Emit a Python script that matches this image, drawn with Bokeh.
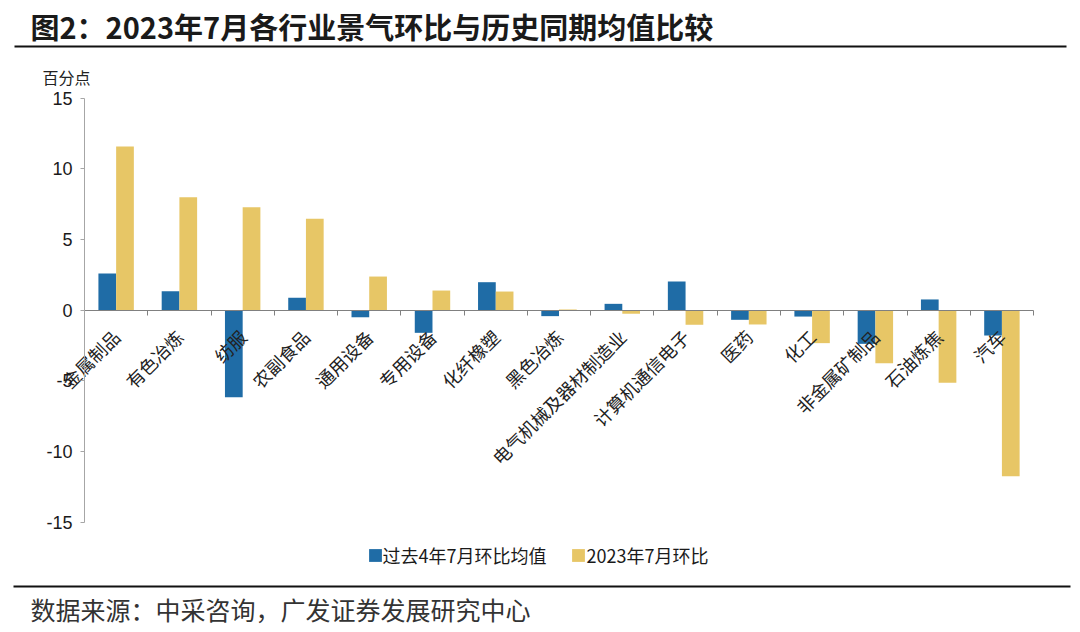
import math
from bokeh.plotting import figure
from bokeh.models import Range1d, FixedTicker, Legend, LegendItem, Label, ColumnDataSource
from bokeh.transform import dodge
from bokeh.core.properties import value
from bokeh.embed import file_html
from bokeh.resources import INLINE

# ---------------- data ----------------
categories = ["金属制品", "有色冶炼", "纺服", "农副食品", "通用设备", "专用设备", "化纤橡塑",
              "黑色冶炼", "电气机械及器材制造业", "计算机通信电子", "医药", "化工",
              "非金属矿制品", "石油炼焦", "汽车"]
avg_past4 = [2.6, 1.34, -6.15, 0.88, -0.5, -1.6, 1.98, -0.42, 0.45, 2.03, -0.68, -0.45, -2.38, 0.76, -1.79]
jul_2023 = [11.58, 7.99, 7.28, 6.46, 2.38, 1.39, 1.32, 0.05, -0.25, -1.03, -1.01, -2.33, -3.75, -5.13, -11.74]
y_ticks = [-15, -10, -5, 0, 5, 10, 15]
y_tick_labels = ["-15", "-10", "-5", "0", "5", "10", "15"]
series_names = ["过去4年7月环比均值", "2023年7月环比"]
title_text = "图2：2023年7月各行业景气环比与历史同期均值比较"
unit_text = "百分点"
source_text = "数据来源：中采咨询，广发证券发展研究中心"

BLUE = "#1F6CA6"
YELLOW = "#E7C666"
CJK = "Noto Sans CJK SC"

# ---------------- layout helpers (canvas pixels -> data) ----------------
W, H = 1080, 632
X0, PITCH = 84.0, 63.27      # x of axis start, px per category
Y0, PPU = 309.7, 14.14       # y of zero line, px per unit


def dx(px):
    return (px - X0) / PITCH - 0.5


def dy(py):
    return (Y0 - py) / PPU


p = figure(width=W, height=H,
           x_range=Range1d(dx(0), dx(W)),
           y_range=Range1d(dy(H), dy(0)),
           output_backend="svg", toolbar_location=None, min_border=0)
p.outline_line_color = None
p.xgrid.visible = False
p.ygrid.visible = False
p.background_fill_color = "white"
p.border_fill_color = "white"

idx = list(range(len(categories)))
src = ColumnDataSource(dict(x=idx, cat=categories, a=avg_past4, b=jul_2023))

r1 = p.vbar(x=dodge("x", -0.14, range=p.x_range), top="a", bottom=0, width=0.28,
            fill_color=BLUE, line_color=None, source=src)
r2 = p.vbar(x=dodge("x", 0.14, range=p.x_range), top="b", bottom=0, width=0.28,
            fill_color=YELLOW, line_color=None, source=src)

# x axis on the zero line
xa = p.xaxis[0]
xa.fixed_location = 0
xa.bounds = (-0.5, len(categories) - 0.5)
xa.ticker = FixedTicker(ticks=idx, minor_ticks=[i - 0.5 for i in range(len(categories) + 1)])
xa.major_label_overrides = {i: c for i, c in enumerate(categories)}
xa.major_label_orientation = math.pi / 4
xa.major_tick_out = 0
xa.major_tick_in = 0
xa.minor_tick_out = 5
xa.minor_tick_in = 0
xa.axis_line_color = "#808080"
xa.minor_tick_line_color = "#808080"
xa.major_label_standoff = 18
xa.major_label_text_font = CJK
xa.major_label_text_font_size = "18px"
xa.major_label_text_color = "#222222"

# y axis
ya = p.yaxis[0]
ya.fixed_location = -0.5
ya.bounds = (-15, 15)
ya.ticker = FixedTicker(ticks=y_ticks)
ya.major_label_overrides = {t: s for t, s in zip(y_ticks, y_tick_labels)}
ya.minor_tick_line_color = None
ya.major_tick_out = 4
ya.major_tick_in = 0
ya.axis_line_color = "#A6A6A6"
ya.major_tick_line_color = "#A6A6A6"
ya.major_label_standoff = 8
ya.major_label_text_font = "Liberation Sans"
ya.major_label_text_font_size = "18px"
ya.major_label_text_color = "#1a1a1a"

# legend (location in px from the canvas bottom-left)
legend = Legend(items=[LegendItem(label=value(series_names[0]), renderers=[r1]),
                       LegendItem(label=value(series_names[1]), renderers=[r2])],
                orientation="horizontal", location=(366.5, 56.5 + (H - 624)),
                glyph_width=16, glyph_height=16, label_standoff=0, spacing=24,
                padding=0, margin=0, border_line_color=None, background_fill_alpha=0,
                label_text_font=CJK, label_text_font_size="18px", label_text_color="#1a1a1a",
                label_height=16)
p.add_layout(legend)

# decorations: title, rules, unit, source
p.add_layout(Label(x=dx(30), y=dy(25), text=title_text, text_font=CJK, text_font_size="29px",
                   text_font_style="bold", text_baseline="middle", text_align="left",
                   text_color="#1a1a1a"))
p.segment(x0=[dx(14)], y0=[dy(46)], x1=[dx(1066)], y1=[dy(46)], line_color="#111111", line_width=2)
p.segment(x0=[dx(13)], y0=[dy(586)], x1=[dx(1070)], y1=[dy(586)], line_color="#111111", line_width=2)
p.add_layout(Label(x=dx(42), y=dy(76), text=unit_text, text_font=CJK, text_font_size="16px",
                   text_baseline="middle", text_align="left", text_color="#222222"))
p.add_layout(Label(x=dx(30), y=dy(608), text=source_text, text_font=CJK, text_font_size="25px",
                   text_baseline="middle", text_align="left", text_color="#333333"))

open("out.html", "w").write(file_html(p, INLINE))
